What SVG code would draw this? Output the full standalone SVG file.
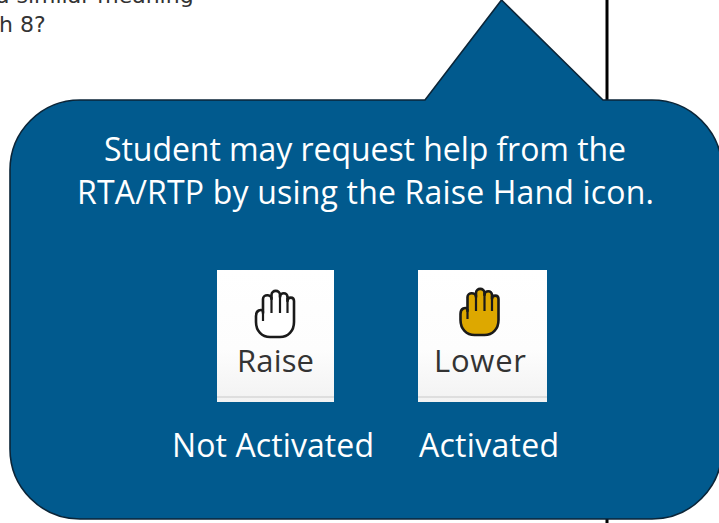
<svg xmlns="http://www.w3.org/2000/svg" width="719" height="523" viewBox="0 0 719 523">
<defs>
<linearGradient id="btn" x1="0" y1="0" x2="0" y2="1"><stop offset="0" stop-color="#ffffff"/><stop offset="0.6" stop-color="#fdfdfd"/><stop offset="1" stop-color="#f2f2f2"/></linearGradient>
<g id="hand">
<path d="M263 313L263 299C263 294 271.500 294 271.500 299L271.500 295C271.500 289.500 280 289.500 280 295L280 297C280 292 287.500 292 287.500 297L287.500 301C287.500 296.500 294 296.500 294 301L294 322C294 331 288 337 280 337L270 337C262 337 256 331 256 322L256 316C256 310 261 309 263 311Z" stroke="#1a1a1a" stroke-width="2.6" stroke-linejoin="round"/>
<path d="M271.500 297V313M280 295V313M287.500 298V313M263 311V321" stroke="#1a1a1a" stroke-width="2.2" fill="none"/>
</g>
</defs>
<style>
.cap{font-family:"Open Sans","Noto Sans",sans-serif;fill:#fff;font-size:32px;text-anchor:middle}
.btn{font-family:"Open Sans","Noto Sans",sans-serif;fill:#333;font-size:31px;text-anchor:middle}
.top{font-family:"DejaVu Sans",sans-serif;fill:#333;font-size:22px}
</style>
<rect width="719" height="523" fill="#fff"/>
<text class="top" x="-1" y="32">h 8?</text>
<text class="top" x="-4" y="3">a similar meaning</text>
<g id="connectors"><path d="M607 0V523" stroke="#000" stroke-width="3" fill="none"/></g>
<g id="callout">
<path d="M80 100H425L501.500 0L603 100H652A70 70 0 0 1 722 170V449A70 70 0 0 1 652 519H80A70 70 0 0 1 10 449V170A70 70 0 0 1 80 100Z" fill="#015a8e" stroke="#0b2538" stroke-width="1.6"/>
<text class="cap" x="365" y="161" textLength="522">Student may request help from the</text>
<text class="cap" x="365.500" y="204" textLength="577">RTA/RTP by using the Raise Hand icon.</text>
<text class="cap" x="273" y="457" textLength="202">Not Activated</text>
<text class="cap" x="489" y="457" textLength="140">Activated</text>
</g>
<g id="raise">
<rect x="217" y="270" width="117" height="132" fill="url(#btn)"/>
<rect x="217" y="396" width="117" height="2" fill="#dedede"/>
<use href="#hand" fill="#fff"/>
<text class="btn" x="275.500" y="372" textLength="77">Raise</text>
</g>
<g id="lower">
<rect x="418" y="270" width="129" height="132" fill="url(#btn)"/>
<rect x="418" y="396" width="129" height="2" fill="#dedede"/>
<use href="#hand" transform="translate(204.500 -2)" fill="#dda800"/>
<text class="btn" x="480" y="372" textLength="92">Lower</text>
</g>
</svg>
